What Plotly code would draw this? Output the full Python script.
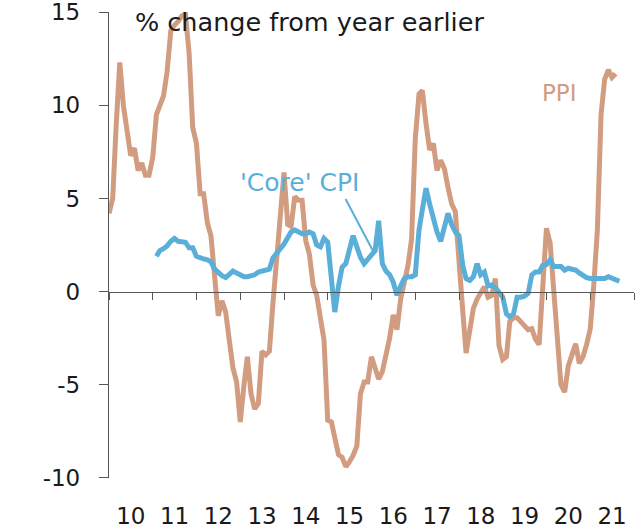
import plotly.graph_objects as go
import pandas as pd

# ---------------- data ----------------
ppi_start = "2010-01-01"
ppi = [4.2, 5.0, 8.8, 12.3, 10.0, 8.4, 7.3, 7.7, 6.5, 6.9, 6.25, 6.25,
       7.2, 9.5, 9.9, 10.5, 11.8, 14.0, 14.3, 14.5, 14.8, 14.9, 12.8, 8.8,
       7.95, 5.25, 5.25, 3.7, 3.0, 1.0, -1.3, -0.5, -1.1, -2.6, -4.1, -4.85,
       -7.0, -5.0, -3.5, -5.5, -6.3, -6.0, -3.2, -3.4, -3.2, -0.6, 1.95, 4.0,
       6.4, 3.6, 3.5, 5.1, 4.9, 4.9, 2.75, 2.0, 0.35, -0.2, -1.4, -2.6,
       -6.9, -7.0, -7.85, -8.75, -8.9, -9.4, -9.15, -8.8, -8.3, -5.5, -4.85, -4.85,
       -3.5, -4.2, -4.7, -4.3, -3.4, -2.5, -1.25, -2.05, -0.4, 0.4, 1.4, 2.8,
       8.2, 10.6, 10.8, 9.0, 7.6, 7.95, 6.5, 7.05, 6.6, 5.6, 4.7, 4.3,
       2.0, -1.0, -3.3, -1.95, -0.9, -0.4, -0.1, 0.25, -0.3, -0.2, 0.7, -2.9,
       -3.65, -3.5, -1.6, -1.4, -1.4, -1.65, -1.9, -2.05, -2.0, -2.55, -2.85, 0.2,
       3.4, 2.6, 0.0, -3.1, -5.0, -5.4, -4.0, -3.4, -2.8, -3.85, -3.5, -2.85,
       -2.0, 0.5, 3.3, 9.5, 11.4, 11.9, 11.5, 11.7]

core_start = "2011-02-01"
core = [1.9, 2.2, 2.3, 2.45, 2.7, 2.85, 2.7, 2.7, 2.65, 2.35, 2.35,
        1.9, 1.8, 1.75, 1.7, 1.6, 1.2, 1.0, 0.85, 0.75, 0.95, 1.1, 1.0,
        0.9, 0.8, 0.8, 0.85, 0.9, 1.05, 1.1, 1.1, 1.2, 1.8, 2.1, 2.3,
        2.55, 2.85, 3.2, 3.3, 3.2, 3.1, 3.1, 3.2, 3.1, 2.5, 2.4, 2.85,
        2.65, 0.8, -1.1, 0.3, 1.3, 1.5, 2.2, 3.0, 2.4, 1.85, 1.5, 1.75,
        1.9, 2.2, 3.8, 1.5, 1.1, 0.9, 0.5, -0.2, 0.3, 0.7, 0.8, 0.8,
        0.9, 3.3, 4.4, 5.55, 4.7, 3.85, 3.2, 2.7, 3.4, 4.2, 3.6, 3.2,
        3.0, 1.4, 0.7, 0.6, 0.8, 1.5, 0.9, 1.05, 0.3, 0.35, 0.2, -0.1,
        -0.3, -1.2, -1.35, -1.2, -0.3, -0.3, -0.25, -0.1, 0.9, 1.05, 1.05, 1.4,
        1.45, 1.7, 1.35, 1.35, 1.35, 1.15, 1.25, 1.2, 1.15, 1.0, 0.85, 0.75,
        0.7, 0.7, 0.7, 0.7, 0.7, 0.8, 0.7, 0.65, 0.55]

years = list(range(2010, 2022))
year_labels = [f"{y % 100:02d}" for y in years]
y_ticks = [-10, -5, 0, 5, 10, 15]
y_tick_labels = ["-10", "-5", "0", "5", "10", "15"]

ppi_dates = pd.date_range(ppi_start, periods=len(ppi), freq="MS")
core_dates = pd.date_range(core_start, periods=len(core), freq="MS")

PPI_COLOR = "#D29C80"
CORE_COLOR = "#5AAFD9"
AXIS_COLOR = "#555555"
TEXT_COLOR = "#1a1a1a"
FONT = "DejaVu Sans"

x_range = [f"{years[0]}-01-01", f"{years[-1] + 1}-01-01"]

fig = go.Figure()
fig.add_trace(go.Scatter(x=ppi_dates, y=ppi, mode="lines",
                         line=dict(color=PPI_COLOR, width=5), showlegend=False))
fig.add_trace(go.Scatter(x=core_dates, y=core, mode="lines",
                         line=dict(color=CORE_COLOR, width=5), showlegend=False))
# helper trace so the zero-line axis (x2) is drawn
fig.add_trace(go.Scatter(x=ppi_dates[:1], y=[None], xaxis="x2", mode="lines",
                         showlegend=False, hoverinfo="skip"))

fig.update_layout(
    width=640, height=532,
    margin=dict(l=109, r=6, t=12, b=54),
    paper_bgcolor="white", plot_bgcolor="white",
    font=dict(family=FONT, color=TEXT_COLOR),
    xaxis=dict(type="date", range=x_range, showgrid=False, zeroline=False,
               showline=False, automargin=False,
               tickvals=[f"{y}-07-02" for y in years], ticktext=year_labels,
               ticks="outside", ticklen=17, tickcolor="rgba(0,0,0,0)",
               tickfont=dict(size=23, color=TEXT_COLOR, family=FONT)),
    xaxis2=dict(type="date", range=x_range, overlaying="x", anchor="free",
                position=0.4, side="bottom", showgrid=False, zeroline=False,
                showline=True, linecolor=AXIS_COLOR, linewidth=1.3, automargin=False,
                tickvals=[f"{y}-01-01" for y in years + [years[-1] + 1]],
                ticks="outside", ticklen=7, tickwidth=1.3, tickcolor=AXIS_COLOR,
                showticklabels=False),
    yaxis=dict(range=[-10.01, 15.01], tickvals=y_ticks, ticktext=y_tick_labels,
               showgrid=False, zeroline=False, automargin=False,
               showline=True, linecolor=AXIS_COLOR, linewidth=1.3,
               ticks="outside", ticklen=9, tickwidth=1.3, tickcolor=AXIS_COLOR,
               ticklabelstandoff=14, ticklabeloverflow="allow",
               tickfont=dict(size=23, color=TEXT_COLOR, family=FONT)),
    annotations=[
        dict(text="% change from year earlier", xref="paper", yref="paper",
             x=0.046, y=0.978, xanchor="left", yanchor="middle", showarrow=False,
             font=dict(size=25.5, color=TEXT_COLOR, family=FONT)),
        dict(text="PPI", x="2020-04-15", y=10.65, xanchor="center", yanchor="middle",
             showarrow=False, font=dict(size=23, color=PPI_COLOR, family=FONT)),
        dict(text="'Core' CPI", x="2014-05-10", y=5.87, xanchor="center",
             yanchor="middle", showarrow=False,
             font=dict(size=25, color=CORE_COLOR, family=FONT)),
        dict(text="", x="2016-01-12", y=2.2, ax=-28, ay=-53, showarrow=True,
             arrowhead=0, arrowwidth=2, arrowcolor=CORE_COLOR),
    ],
)

# remove the default 8px page margin so the figure fills the window exactly
fig.write_html("out.html", config={"displayModeBar": False},
               post_script="document.body.style.margin='0';")
